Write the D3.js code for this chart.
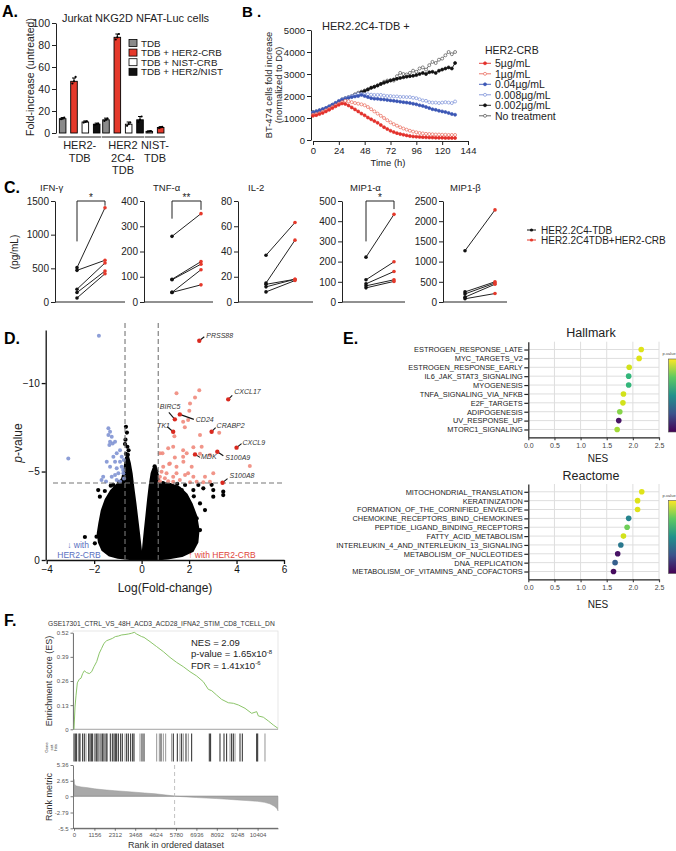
<!DOCTYPE html>
<html><head><meta charset="utf-8">
<script src="https://cdn.jsdelivr.net/npm/d3@7"></script>
<style>body{margin:0;background:#fff;}svg{display:block;}</style>
</head><body>
<svg id="chart" width="676" height="851"></svg>
<script>
// ================= DATA =================
// Panel A
const aGroups = ["HER2-TDB","HER2 2C4-TDB","NIST-TDB"];
const aGroupLines = [["HER2-","TDB"],["HER2","2C4-","TDB"],["NIST-","TDB"]];
const aSeries = ["TDB","TDB + HER2-CRB","TDB + NIST-CRB","TDB + HER2/NIST"];
const aMeans = [[13,47,10,8],[12,87,8,12],[1.5,5,null,null]];
const aErr = [[1,3,1,1],[1.5,3,2,3],[0.3,0.8,null,null]];
const aReps = [[[12.5,13,14],[45,47,51],[9.5,10,10.5],[7.5,8,8.5]],
               [[11,12,13],[85,87,90],[6.5,8,9.5],[10,12,15]],
               [[1.2,1.5,1.8],[4.5,5,5.5],null,null]];
// Panel B
const bTimes = [0,3,6,9,12,15,18,21,24,27,30,33,36,39,42,45,48,51,54,57,60,63,66,69,72,75,78,81,84,87,90,93,96,99,102,105,108,111,114,117,120,123,126,129,132];
const bLabels = ["5µg/mL","1µg/mL","0.04µg/mL","0.008µg/mL","0.002µg/mL","No treatment"];
const b5 = [1100,1130,1180,1230,1300,1370,1450,1530,1600,1660,1640,1570,1480,1390,1300,1200,1120,1020,940,860,780,680,580,500,420,360,310,270,240,210,180,160,150,140,130,120,115,110,105,100,100,95,95,90,90];
const b1 = [1150,1180,1220,1280,1350,1420,1500,1580,1650,1720,1780,1760,1720,1680,1650,1620,1580,1500,1400,1300,1200,1100,1000,900,800,720,650,580,520,470,420,380,350,320,300,280,270,260,250,250,240,240,230,230,230];
const b004 = [1250,1300,1350,1400,1450,1520,1600,1680,1760,1830,1880,1920,1950,1980,2000,2050,2000,1950,1900,1880,1870,1850,1840,1820,1800,1780,1760,1740,1720,1700,1680,1650,1620,1580,1550,1500,1450,1400,1370,1330,1300,1270,1230,1180,1150];
const b0008 = [1250,1290,1340,1400,1460,1530,1600,1690,1780,1850,1900,1950,2000,2050,2100,2100,2080,2080,2060,2050,2050,2050,2020,2000,2000,1980,1980,1960,1960,1950,1950,1920,1900,1850,1800,1780,1720,1700,1700,1680,1700,1720,1700,1680,1750];
const b0002 = [1200,1250,1300,1350,1420,1500,1580,1650,1750,1820,1880,1930,1980,2050,2100,2170,2230,2300,2370,2420,2480,2550,2600,2650,2700,2750,2780,2820,2850,2880,2900,2920,2950,3000,3050,3000,3080,3100,3050,3150,3200,3250,3300,3250,3500];
const bNone = [1280,1300,1350,1400,1450,1520,1600,1680,1760,1850,1900,1950,2000,2080,2150,2200,2250,2300,2380,2420,2480,2550,2650,2700,2720,2700,2900,3050,3000,2980,3050,3150,3100,3250,3300,3200,3400,3550,3500,3650,3700,3850,4000,3900,4000];
// Panel C
const cCytokines = ["IFN-γ","TNF-α","IL-2","MIP1-α","MIP1-β"];
const cTDB = [[510,470,190,140,60],[260,90,88,38,38],[37,15,14,12,8],[222,110,90,80,70],[1270,250,200,120,80]];
const cCRB = [[1400,620,580,460,420],[350,160,150,128,68],[63,49,18,18,17],[434,199,151,110,102],[2280,500,470,440,210]];
const cMax = [1500,400,80,500,2500];
const cStep = [500,100,20,100,500];
const cSig = ["*","**",null,"*",null];
const cBracket = [[900,1500,1430],[330,400,365],null,[300,500,460],null];
const cLegend = ["HER2.2C4-TDB","HER2.2C4TDB+HER2-CRB"];
// Panel D  [logFC, p-value axis value]
const volcUp = [[2.43,-9.60],[1.47,-9.42],[2.25,-9.19],[2.04,-8.85],[2.01,-8.44],[1.75,-7.81],[1.96,-7.91],[1.82,-7.50],[3.27,-7.19],[1.38,-7.00],[2.53,-6.40],[2.18,-6.37],[1.75,-6.21],[0.88,-6.03],[1.40,-5.80],[1.75,-5.84],[2.88,-5.93],[4.56,-5.31],[0.91,-5.27],[1.16,-5.42],[1.47,-5.27],[1.96,-4.90],[2.67,-4.71],[0.77,-4.71],[0.98,-4.62],[1.33,-4.71],[1.61,-4.52],[2.32,-4.42],[2.88,-4.42],[1.12,-6.31],[2.46,-6.0],[1.19,-5.46],[1.76,-5.56],[2.11,-5.27],[0.84,-4.99],[1.05,-4.90],[1.47,-4.90],[1.83,-4.80],[2.18,-4.71],[3.02,-4.90],[0.77,-4.45],[1.12,-4.45],[1.33,-4.42],[2.04,-4.40],[2.60,-4.40],[1.90,-6.03],[2.46,-7.06],[1.33,-6.40],[0.77,-6.03]];
const volcDown = [[-1.80,-12.67],[-3.09,-5.74],[-1.40,-7.44],[-1.33,-7.25],[-1.40,-7.06],[-1.26,-6.97],[-1.33,-6.69],[-1.22,-6.59],[-1.12,-6.69],[-1.36,-6.50],[-1.05,-6.03],[-0.91,-6.21],[-0.84,-5.84],[-1.19,-5.84],[-1.47,-5.56],[-1.12,-5.56],[-0.91,-5.56],[-0.75,-5.65],[-1.33,-5.27],[-1.05,-5.18],[-0.84,-5.27],[-0.98,-4.90],[-1.12,-4.80],[-0.77,-4.90],[-0.78,-5.08],[-1.69,-4.52],[-1.50,-4.43],[-1.05,-4.52],[-0.91,-4.43],[-0.74,-4.61],[-1.62,-4.71],[-1.26,-4.71]];
const volcNS = [[-1.83,-3.95],[-1.76,-3.58],[-1.47,-2.82],[-1.69,-2.07],[-1.90,-1.32],[-1.97,-0.94],[-2.39,-1.30],[-1.26,-0.56],[-1.55,-3.9],[-1.3,-4.2],[1.69,-3.95],[2.18,-3.95],[2.60,-4.05],[3.02,-3.95],[3.44,-3.86],[3.44,-3.67],[3.02,-3.58],[2.46,-3.20],[2.67,-2.82],[2.32,-2.35],[2.46,-1.69],[2.04,-0.94],[1.83,-0.56],[2.95,-4.25],[2.39,-4.24],[1.83,-4.24],[1.33,-4.14],[2.2,-3.6],[1.95,-3.3],[2.1,-2.8],[-0.66,-7.53],[-0.62,-7.2],[-0.68,-6.8],[-0.6,-6.4],[-0.66,-6.0],[-0.55,-6.2],[-0.7,-6.55],[-0.58,-5.95],[0.55,-5.3],[0.62,-5.0],[-1.1,-0.3],[1.2,-0.2],[-1.2,-4.25],[-0.95,-4.4],[0.9,-4.35],[1.5,-4.3]];
const volcCoreLeft = [[-0.02,0],[-0.5,-0.05],[-1.0,-0.12],[-1.35,-0.25],[-1.65,-0.55],[-1.8,-1.0],[-1.85,-1.5],[-1.78,-2.1],[-1.68,-2.8],[-1.52,-3.4],[-1.3,-3.9],[-1.05,-4.25],[-0.82,-4.6],[-0.72,-5.2],[-0.66,-5.8],[-0.58,-5.9],[-0.5,-5.5],[-0.42,-4.9],[-0.35,-4.1],[-0.26,-3.2],[-0.18,-2.3],[-0.11,-1.5],[-0.05,-0.8],[0,-0.2]];
const volcCoreRight = [[0.02,0],[0.07,-0.8],[0.13,-1.6],[0.2,-2.5],[0.27,-3.4],[0.34,-4.2],[0.42,-4.9],[0.5,-5.2],[0.62,-5.2],[0.68,-4.8],[0.75,-4.4],[1.2,-4.3],[1.6,-4.1],[1.9,-3.7],[2.1,-3.2],[2.3,-2.5],[2.4,-1.7],[2.35,-1.0],[2.15,-0.5],[1.7,-0.22],[1.1,-0.08],[0.5,-0.02]];
const geneNames = ["PRSS88","CXCL17","BIRC5","CD24","CRABP2","TK1","CXCL9","MDK","S100A9","S100A8"];
const geneFC = [2.43,3.65,1.40,1.61,2.95,1.33,4.00,2.25,3.19,3.41];
const geneP = [-12.39,-9.08,-7.95,-8.23,-7.25,-7.25,-6.35,-5.97,-6.12,-4.37];
// Panel E
const hallTerms = ["ESTROGEN_RESPONSE_LATE","MYC_TARGETS_V2","ESTROGEN_RESPONSE_EARLY","IL6_JAK_STAT3_SIGNALING","MYOGENESIS","TNFA_SIGNALING_VIA_NFKB","E2F_TARGETS","ADIPOGENESIS","UV_RESPONSE_UP","MTORC1_SIGNALING"];
const hallNES = [2.16,2.12,1.93,1.92,1.92,1.82,1.81,1.75,1.73,1.70];
const hallColor = [0.95,0.95,0.93,0.66,0.66,0.93,0.93,0.82,0.05,0.86];
const reactTerms = ["MITOCHONDRIAL_TRANSLATION","KERATINIZATION","FORMATION_OF_THE_CORNIFIED_ENVELOPE","CHEMOKINE_RECEPTORS_BIND_CHEMOKINES","PEPTIDE_LIGAND_BINDING_RECEPTORS","FATTY_ACID_METABOLISM","INTERLEUKIN_4_AND_INTERLEUKIN_13_SIGNALING","METABOLISM_OF_NUCLEOTIDES","DNA_REPLICATION","METABOLISM_OF_VITAMINS_AND_COFACTORS"];
const reactNES = [2.17,2.09,2.09,1.92,1.89,1.82,1.77,1.71,1.66,1.63];
const reactColor = [0.95,0.95,0.95,0.45,0.78,0.93,0.4,0.05,0.3,0.03];
// Panel F
const fTitle = "GSE17301_CTRL_VS_48H_ACD3_ACD28_IFNA2_STIM_CD8_TCELL_DN";
const esRank = [0,57,113,189,302,397,491,585,718,869,1001,1133,1284,1435,1567,1700,1851,2040,2191,2342,2512,2700,2889,3078,3267,3418,3551,3834,3966,4306,4684,5062,5440,5818,6195,6573,6951,7329,7612,7801,8084,8368,8746,9029,9312,9690,10068,10352,10447,10730,11013,11296,11560];
const esValue = [0,0.12,0.18,0.25,0.27,0.275,0.30,0.315,0.305,0.30,0.31,0.337,0.364,0.41,0.436,0.463,0.477,0.484,0.49,0.499,0.502,0.508,0.510,0.513,0.517,0.522,0.513,0.499,0.495,0.472,0.445,0.418,0.387,0.36,0.337,0.31,0.287,0.256,0.215,0.208,0.184,0.161,0.143,0.140,0.131,0.113,0.086,0.095,0.072,0.065,0.045,0.023,0.005];
const hitRanks = [0,75,150,283,340,490,585,680,830,907,982,1058,1190,1285,1360,1435,1530,1624,1700,1813,1870,2058,2172,2267,2342,2418,2512,2644,2738,2890,2984,3079,3211,3324,3400,3740,3853,3967,4685,4836,4930,5062,5194,5534,5628,5855,6006,6100,6195,6346,6478,6668,7667,7742,8273,8500,8649,8840,8933,9028,9124,9407,9538,10352,10409,10823];
const hitGray = [680,1435,2890,3740,4685,4836,5062,5194,5534,6006,6195,6478,8840,9124,10823];
const rmRank = [0,20,60,150,400,800,1156,1700,2312,2900,3468,4000,4624,5200,5780,6400,6936,7500,8092,8700,9248,9800,10404,10800,11100,11350,11500,11560];
const rmValue = [2.9,2.2,1.9,1.75,1.6,1.45,1.28,1.1,0.95,0.82,0.69,0.56,0.41,0.22,0,-0.12,-0.22,-0.31,-0.4,-0.52,-0.63,-0.74,-0.87,-1.05,-1.3,-1.7,-2.1,-2.5];
const esTicks = [0,0.13,0.26,0.39,0.52];
const rmTicks = [-5.5,-2.79,0,2.65,5.36];
const rankTicks = [0,1156,2312,3468,4624,5780,6936,8092,9248,10404];

// ================= DRAW =================
const FF = '"Liberation Sans", Arial, Helvetica, sans-serif';
const svg = d3.select("#chart").attr("font-family", FF);
const RED = "#e5392b";
const INT = d3.format("d");

function styleAxis(sel, fs, color, sw){
  sel.attr("font-family", FF);
  sel.selectAll("text").attr("font-size", fs).attr("fill", color || "#000");
  sel.selectAll(".tick line").attr("stroke", color || "#000").attr("stroke-width", sw || 1);
  sel.select(".domain").attr("stroke", color || "#000").attr("stroke-width", sw || 1);
  return sel;
}
function text(g, x, y, s, fs, opt){
  opt = opt || {};
  const t = g.append("text").attr("x", x).attr("y", y).attr("font-size", fs).text(s)
    .attr("fill", opt.fill || "#000").attr("text-anchor", opt.anchor || "start");
  if (opt.weight) t.attr("font-weight", opt.weight);
  if (opt.style) t.attr("font-style", opt.style);
  if (opt.rotate) t.attr("transform", `rotate(-90,${x},${y})`);
  return t;
}

// panel letters
text(svg, 2, 17, "A.", 16, {weight:"bold"});
text(svg, 242, 17, "B .", 15, {weight:"bold"});
text(svg, 4, 193, "C.", 16, {weight:"bold"});
text(svg, 4, 344, "D.", 16, {weight:"bold"});
text(svg, 343, 344, "E.", 16, {weight:"bold"});
text(svg, 4, 626, "F.", 16, {weight:"bold"});

// ---------- Panel A ----------
(function(){
  const g = svg.append("g");
  const y = d3.scaleLinear().domain([0,100]).range([133,23]);
  const x0 = d3.scaleBand().domain(aGroups).range([58,188]);
  const x1 = d3.scaleBand().domain(aSeries).range([0, x0.bandwidth()]).paddingInner(0.42).paddingOuter(0.12);
  const fills = ["#8a8a8a", RED, "#ffffff", "#111"];
  styleAxis(g.append("g").attr("transform","translate(56,0)")
    .call(d3.axisLeft(y).tickValues([0,20,40,60,80,100]).tickFormat(INT).tickSize(4).tickSizeOuter(0).tickPadding(2)), 10.5, "#222", 1);
  aGroups.forEach((gr, gi) => {
    let minX = Infinity, maxX = -Infinity;
    aSeries.forEach((s, si) => {
      const v = aMeans[gi][si]; if (v == null) return;
      const bx = x0(gr) + x1(s), bw = x1.bandwidth(), cx = bx + bw/2;
      minX = Math.min(minX, bx); maxX = Math.max(maxX, bx + bw);
      const e = aErr[gi][si];
      g.append("line").attr("x1",cx).attr("x2",cx).attr("y1",y(v)).attr("y2",y(v+e)).attr("stroke","#000").attr("stroke-width",1);
      g.append("line").attr("x1",cx-2).attr("x2",cx+2).attr("y1",y(v+e)).attr("y2",y(v+e)).attr("stroke","#000").attr("stroke-width",1);
      g.append("rect").attr("x",bx).attr("y",y(v)).attr("width",bw).attr("height",y(0)-y(v))
        .attr("fill",fills[si]).attr("stroke","#000").attr("stroke-width",0.9);
      (aReps[gi][si]||[]).forEach((r,ri)=>{
        g.append("circle").attr("cx", cx + (ri-1)*1.6).attr("cy", y(r)).attr("r",1.1).attr("fill","#000");
      });
    });
    g.append("line").attr("x1",minX-1).attr("x2",maxX+1).attr("y1",137).attr("y2",137).attr("stroke","#222").attr("stroke-width",1);
    const cxg = (minX + maxX)/2;
    aGroupLines[gi].forEach((ln, li) => text(g, cxg, 149 + li*12.5, ln, 11, {anchor:"middle", fill:"#222"}));
  });
  text(g, 34, 77, "Fold-increase (untreated)", 10.5, {anchor:"middle", rotate:true, fill:"#222"});
  text(g, 62, 22, "Jurkat NKG2D NFAT-Luc cells", 11, {fill:"#222"});
  aSeries.forEach((s, si) => {
    const yy = 43 + si*9.6;
    g.append("rect").attr("x",129).attr("y",yy-3.5).attr("width",8).attr("height",7)
      .attr("fill",fills[si]).attr("stroke","#000").attr("stroke-width",0.8);
    text(g, 141, yy+3.6, s, 9.8, {fill:"#222"});
  });
})();

// ---------- Panel B ----------
(function(){
  const g = svg.append("g");
  const x = d3.scaleLinear().domain([0,144]).range([313,468]);
  const y = d3.scaleLinear().domain([0,5000]).range([140,30]);
  styleAxis(g.append("g").attr("transform","translate(311,0)")
    .call(d3.axisLeft(y).tickValues([0,1000,2000,3000,4000,5000]).tickFormat(INT).tickSize(4).tickSizeOuter(0).tickPadding(2)), 9.5, "#222", 1);
  styleAxis(g.append("g").attr("transform","translate(0,141)")
    .call(d3.axisBottom(x).tickValues([0,24,48,72,96,120,144]).tickFormat(INT).tickSize(4).tickSizeOuter(0).tickPadding(2)), 9.5, "#222", 1);
  text(g, 388, 166, "Time (h)", 9.5, {anchor:"middle", fill:"#222"});
  text(g, 272, 85, "BT-474 cells fold increase", 9.3, {anchor:"middle", rotate:true, fill:"#222"});
  text(g, 282, 85, "(normalized to D0)", 9.3, {anchor:"middle", rotate:true, fill:"#222"});
  text(g, 322, 30, "HER2.2C4-TDB +", 11, {fill:"#222"});
  const series = [bNone, b0002, b0008, b004, b1, b5];
  const sIdx = [5,4,3,2,1,0];
  const colors = ["#e3302b","#ea6a5c","#3b56b5","#7b90d8","#111","#555"];
  const open = [false,true,false,true,false,true];
  const line = d3.line().x((d,i)=>x(bTimes[i])).y(d=>y(d));
  series.forEach((s, k) => {
    const i = sIdx[k];
    g.append("path").attr("d", line(s)).attr("fill","none").attr("stroke",colors[i]).attr("stroke-width",0.9);
    g.selectAll(null).data(s).enter().append("circle")
      .attr("cx",(d,j)=>x(bTimes[j])).attr("cy",d=>y(d)).attr("r",1.5)
      .attr("fill", open[i] ? "#fff" : colors[i]).attr("stroke",colors[i]).attr("stroke-width",0.7);
  });
  text(g, 485, 54, "HER2-CRB", 10.5, {fill:"#222"});
  bLabels.forEach((lb, i) => {
    const yy = 63.3 + i*10.5;
    g.append("line").attr("x1",479).attr("x2",491).attr("y1",yy).attr("y2",yy).attr("stroke",colors[i]).attr("stroke-width",0.9);
    g.append("circle").attr("cx",485).attr("cy",yy).attr("r",1.5).attr("fill",open[i]?"#fff":colors[i]).attr("stroke",colors[i]).attr("stroke-width",0.7);
    text(g, 495, yy+3.8, lb, 10.5, {fill:"#222"});
  });
})();

// ---------- Panel C ----------
(function(){
  const layout = [
    {ax:55, xe:125, bx:77, rx:105, tx:40},
    {ax:144, xe:213, bx:172, rx:201, tx:153},
    {ax:238, xe:313, bx:266, rx:295, tx:248},
    {ax:342, xe:405, bx:366, rx:394, tx:350},
    {ax:443, xe:507, bx:465, rx:495, tx:450}
  ];
  const yTop = 201, yBot = 302;
  cCytokines.forEach((name, k) => {
    const L = layout[k];
    const g = svg.append("g");
    const y = d3.scaleLinear().domain([0, cMax[k]]).range([yBot, yTop]);
    const x = d3.scalePoint().domain(["TDB","CRB"]).range([L.bx, L.rx]);
    styleAxis(g.append("g").attr("transform",`translate(${L.ax},0)`)
      .call(d3.axisLeft(y).tickValues(d3.range(0, cMax[k]+1, cStep[k])).tickFormat(INT).tickSize(4).tickSizeOuter(0).tickPadding(2)), 10, "#222", 1);
    g.append("line").attr("x1",L.ax).attr("x2",L.xe).attr("y1",yBot).attr("y2",yBot).attr("stroke","#222");
    text(g, L.tx, 190.5, name, 9.5, {fill:"#222"});
    cTDB[k].forEach((v, i) => {
      const w = cCRB[k][i];
      g.append("line").attr("x1",x("TDB")).attr("y1",y(v)).attr("x2",x("CRB")).attr("y2",y(w)).attr("stroke","#222").attr("stroke-width",1);
    });
    cTDB[k].forEach(v => g.append("circle").attr("cx",x("TDB")).attr("cy",y(v)).attr("r",1.8).attr("fill","#111"));
    cCRB[k].forEach(v => g.append("circle").attr("cx",x("CRB")).attr("cy",y(v)).attr("r",1.8).attr("fill",RED));
    if (cBracket[k]) {
      const b = cBracket[k];
      g.append("path").attr("d", `M${x("TDB")},${y(b[0])}V${y(b[1])}H${x("CRB")}V${y(b[2])}`)
        .attr("fill","none").attr("stroke","#222").attr("stroke-width",1);
      text(g, (x("TDB")+x("CRB"))/2, y(b[1]) - 0.5, cSig[k], 10, {anchor:"middle", fill:"#222"});
    }
  });
  text(svg, 18, 252, "(pg/mL)", 10, {anchor:"middle", rotate:true, fill:"#222"});
  const lc = ["#111", RED];
  cLegend.forEach((s, i) => {
    const yy = 230 + i*10;
    svg.append("line").attr("x1",527).attr("x2",536).attr("y1",yy).attr("y2",yy).attr("stroke",lc[i]).attr("stroke-width",1);
    svg.append("circle").attr("cx",531.5).attr("cy",yy).attr("r",1.6).attr("fill",lc[i]);
    text(svg, 541, yy+3.6, s, 10, {fill:"#222"});
  });
})();

// ---------- Panel D ----------
(function(){
  const g = svg.append("g");
  const x = d3.scaleLinear().domain([-4,6]).range([46.7,284]);
  const y = d3.scaleLinear().domain([0,-13]).range([560,330]);
  const poly = d3.line().x(d=>x(d[0])).y(d=>y(d[1])).curve(d3.curveLinearClosed);
  [volcCoreLeft, volcCoreRight].forEach(c => g.append("path").attr("d", poly(c))
    .attr("fill","#000").attr("stroke","#000").attr("stroke-width",2).attr("stroke-linejoin","round"));
  g.selectAll(null).data(volcNS).enter().append("circle")
    .attr("cx",d=>x(d[0])).attr("cy",d=>y(d[1])).attr("r",2.1).attr("fill","#000");
  g.selectAll(null).data(volcDown).enter().append("circle")
    .attr("cx",d=>x(d[0])).attr("cy",d=>y(d[1])).attr("r",2).attr("fill","#8193d3").attr("opacity",0.9);
  g.selectAll(null).data(volcUp).enter().append("circle")
    .attr("cx",d=>x(d[0])).attr("cy",d=>y(d[1])).attr("r",2).attr("fill","#f08a7c").attr("opacity",0.9);
  [-0.7, 0.7].forEach(v => g.append("line").attr("x1",x(v)).attr("x2",x(v)).attr("y1",323).attr("y2",560)
    .attr("stroke","#777").attr("stroke-width",1.1).attr("stroke-dasharray","5,3"));
  g.append("line").attr("x1",53).attr("x2",282).attr("y1",y(-4.35)).attr("y2",y(-4.35))
    .attr("stroke","#777").attr("stroke-width",1.1).attr("stroke-dasharray","5,3");
  const lab = {PRSS88:[7,-3], CXCL17:[6,-5], BIRC5:[-15,-10], CD24:[16,8], CRABP2:[5,-4], TK1:[-16,-4], CXCL9:[6,-3], MDK:[6,5], S100A9:[8,8], S100A8:[7,-5]};
  const lead = {PRSS88:[5,-4], CXCL17:[4,-4], BIRC5:[-6,-7], CD24:[14,5], CRABP2:[4,-4], TK1:[-6,-5], CXCL9:[5,-4], MDK:[5,3], S100A9:[6,4], S100A8:[5,-4]};
  geneNames.forEach((n, i) => {
    const px = x(geneFC[i]), py = y(geneP[i]);
    g.append("line").attr("x1",px).attr("y1",py).attr("x2",px+lead[n][0]).attr("y2",py+lead[n][1]).attr("stroke","#111").attr("stroke-width",1.1);
    g.append("circle").attr("cx",px).attr("cy",py).attr("r",2.2).attr("fill","#d9291f");
    text(g, px+lab[n][0], py+lab[n][1], n, 7, {style:"italic", fill:"#333"});
  });
  styleAxis(g.append("g").attr("transform","translate(45.7,0)")
    .call(d3.axisLeft(y).tickValues([0,-5,-10]).tickSize(4).tickSizeOuter(0).tickPadding(2)), 10, "#111", 1.3);
  styleAxis(g.append("g").attr("transform","translate(0,560)")
    .call(d3.axisBottom(x).tickValues([-4,-2,0,2,4,6]).tickSize(4).tickSizeOuter(0).tickPadding(2)), 10, "#111", 1.3);
  text(g, 165, 592, "Log(Fold-change)", 12, {anchor:"middle", fill:"#222"});
  const pl = text(g, 22, 443, "", 12, {anchor:"middle", rotate:true, fill:"#222"});
  pl.append("tspan").attr("font-style","italic").text("p");
  pl.append("tspan").text("-value");
  text(g, 78, 547.5, "↓ with", 8.5, {anchor:"middle", fill:"#5a6fc0"});
  text(g, 79, 557.5, "HER2-CRB", 8.5, {anchor:"middle", fill:"#5a6fc0"});
  text(g, 222, 557.5, "↑ with HER2-CRB", 8.5, {anchor:"middle", fill:"#e0443a"});
})();

// ---------- Panel E ----------
function dotPanel(terms, nes, col, top, bot, title, titleY, nesY, cbTop, cbBot, id){
  const g = svg.append("g");
  const x = d3.scaleLinear().domain([0,2.5]).range([528.3,659]);
  const y = d3.scalePoint().domain(terms).range([top, bot]).padding(0.88);
  [0.5,1,1.5,2,2.5].forEach(v => g.append("line").attr("x1",x(v)).attr("x2",x(v)).attr("y1",top).attr("y2",bot).attr("stroke","#dedede").attr("stroke-width",1));
  terms.forEach(t => g.append("line").attr("x1",x(0)).attr("x2",x(2.5)).attr("y1",y(t)).attr("y2",y(t)).attr("stroke","#dedede").attr("stroke-width",1));
  terms.forEach((t,i) => g.append("circle").attr("cx",x(nes[i])).attr("cy",y(t)).attr("r",2.8).attr("fill",d3.interpolateViridis(col[i])));
  styleAxis(g.append("g").attr("transform","translate(528.3,0)")
    .call(d3.axisLeft(y).tickSize(4).tickSizeOuter(0).tickPadding(1.5)), 7.4, "#222", 1.2);
  const xa = styleAxis(g.append("g").attr("transform",`translate(0,${bot})`)
    .call(d3.axisBottom(x).tickValues([0,0.5,1,1.5,2,2.5]).tickFormat(d3.format(".1f")).tickSize(3).tickSizeOuter(0).tickPadding(2.5)), 7, "#444", 1.2);
  xa.select(".domain").attr("stroke","#222");
  text(g, 591, titleY, title, 12.5, {anchor:"middle", fill:"#222"});
  text(g, 598, nesY, "NES", 10, {anchor:"middle", fill:"#222"});
  const grad = svg.append("defs").append("linearGradient").attr("id",id).attr("x1",0).attr("x2",0).attr("y1",0).attr("y2",1);
  [0,0.25,0.5,0.75,1].forEach(o => grad.append("stop").attr("offset",o).attr("stop-color",d3.interpolateViridis(1-o)));
  g.append("rect").attr("x",668.5).attr("y",cbTop).attr("width",12).attr("height",cbBot-cbTop).attr("fill",`url(#${id})`).attr("stroke","#555").attr("stroke-width",0.6);
  text(g, 662.5, cbTop-4, "p-value", 4, {fill:"#444"});
}
dotPanel(hallTerms, hallNES, hallColor, 341.7, 437.3, "Hallmark", 336.5, 462, 359, 432, "gh");
dotPanel(reactTerms, reactNES, reactColor, 484, 579.3, "Reactome", 479.5, 608, 500.5, 573.5, "gr");

// ---------- Panel F ----------
(function(){
  const g = svg.append("g");
  const x = d3.scaleLinear().domain([0,11560]).range([74,278]);
  const yE = d3.scaleLinear().domain([0,0.52]).range([729.3,632.7]);
  const yR = d3.scaleLinear().domain([-5.5,5.36]).range([828.3,765]);
  text(g, 48, 625.5, fTitle, 6.7, {fill:"#333"});
  g.append("rect").attr("x",73).attr("y",631).attr("width",205).attr("height",98.3).attr("fill","none").attr("stroke","#e2e2e2").attr("stroke-width",0.8);
  styleAxis(g.append("g").attr("transform","translate(73,0)")
    .call(d3.axisLeft(yE).tickValues(esTicks).tickFormat(d=>d===0?"0":d3.format(".2f")(d)).tickSize(2.5).tickSizeOuter(0).tickPadding(2)), 6, "#555", 0.8);
  g.append("line").attr("x1",73).attr("x2",278).attr("y1",yE(0)).attr("y2",yE(0)).attr("stroke","#999").attr("stroke-width",0.8);
  g.append("path").attr("d", d3.line().x((d,i)=>x(esRank[i])).y(d=>yE(d))(esValue))
    .attr("fill","none").attr("stroke","#8cc56a").attr("stroke-width",1);
  const nt = g.append("g");
  text(nt, 191, 645.5, "NES = 2.09", 9.5, {fill:"#222"});
  const p1 = text(nt, 191, 657, "p-value = 1.65x10", 9.5, {fill:"#222"});
  p1.append("tspan").attr("font-size",6).attr("dy",-3.5).text("-8");
  const p2 = text(nt, 191, 668.5, "FDR = 1.41x10", 9.5, {fill:"#222"});
  p2.append("tspan").attr("font-size",6).attr("dy",-3.5).text("-6");
  text(g, 52, 681, "Enrichment score (ES)", 9, {anchor:"middle", rotate:true, fill:"#333"});
  hitRanks.forEach(r => g.append("line").attr("x1",x(r)).attr("x2",x(r)).attr("y1",733.5).attr("y2",761.5)
    .attr("stroke", hitGray.includes(r) ? "#8a8a8a" : "#111").attr("stroke-width",0.9));
  ["Gene","set","hits"].forEach((s,i) => text(g, 48 + i*4.5, 747.5, s, 4.3, {anchor:"middle", rotate:true, fill:"#444"}));
  const area = d3.area().x((d,i)=>x(rmRank[i])).y0(yR(0)).y1(d=>yR(d));
  g.append("path").attr("d", area(rmValue)).attr("fill","#a9a9a9").attr("stroke","#999").attr("stroke-width",0.5);
  g.append("line").attr("x1",74).attr("x2",278).attr("y1",yR(0)).attr("y2",yR(0)).attr("stroke","#888").attr("stroke-width",0.6);
  g.append("line").attr("x1",x(5700)).attr("x2",x(5700)).attr("y1",765).attr("y2",828).attr("stroke","#bbb").attr("stroke-width",0.9).attr("stroke-dasharray","4,3");
  styleAxis(g.append("g").attr("transform","translate(73,0)")
    .call(d3.axisLeft(yR).tickValues(rmTicks).tickFormat(d=>d===0?"0":String(d)).tickSize(2.5).tickSizeOuter(0).tickPadding(2)), 6, "#555", 0.8);
  styleAxis(g.append("g").attr("transform","translate(0,828.3)")
    .call(d3.axisBottom(x).tickValues(rankTicks).tickSize(2.5).tickSizeOuter(0).tickPadding(2).tickFormat(d=>String(d))), 6, "#555", 0.8);
  g.append("line").attr("x1",73).attr("x2",278).attr("y1",828.3).attr("y2",828.3).attr("stroke","#555").attr("stroke-width",0.8);
  text(g, 52, 797, "Rank metric", 9, {anchor:"middle", rotate:true, fill:"#333"});
  text(g, 176, 847.5, "Rank in ordered dataset", 9, {anchor:"middle", fill:"#333"});
})();
</script>
</body></html>
